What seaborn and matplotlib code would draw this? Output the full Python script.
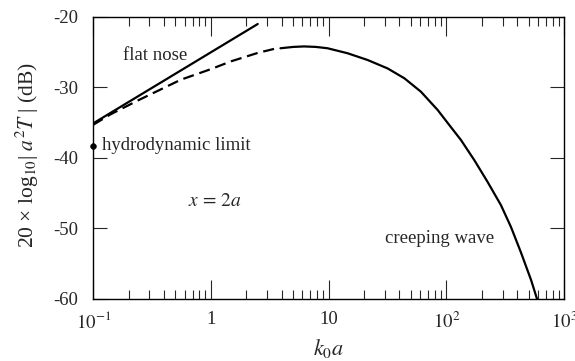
import numpy as np
import matplotlib
matplotlib.use("Agg")
import matplotlib.pyplot as plt
import matplotlib.ticker as mticker
import seaborn as sns

# flat nose asymptote (straight in log x)
flat_ka = [0.1, 2.5]
flat_db = [-35.1, -21.0]

# low frequency (dashed) part of the full solution
low_ka = [0.1, 0.141, 0.25, 0.556, 1.0, 1.48, 2.5, 3.5]
low_db = [-35.3, -33.8, -31.7, -28.9, -27.4, -26.3, -25.1, -24.5]

# high frequency (solid) part, creeping wave regime
high_ka = [3.9, 5.0, 6.2, 7.8, 9.8, 14.5, 21.4, 31.7, 44, 60.8, 84.4, 109,
           133, 172.6, 224, 291, 354, 430, 524, 589]
high_db = [-24.44, -24.25, -24.18, -24.25, -24.44, -25.15, -26.1, -27.3, -28.7,
           -30.6, -33.2, -35.6, -37.45, -40.3, -43.4, -46.7, -49.8, -53.4,
           -57.3, -60.0]

# hydrodynamic limit point
hydro_ka = [0.1]
hydro_db = [-38.25]

xtick_vals = [0.1, 1, 10, 100, 1000]
xtick_labels = ["$10^{-1}$", "1", "10", "$10^2$", "$10^3$"]
ytick_vals = [-60, -50, -40, -30, -20]

sns.set_style("ticks")
plt.rcParams["font.family"] = ["Liberation Serif", "DejaVu Serif"]
plt.rcParams["mathtext.fontset"] = "stix"

fig, ax = plt.subplots(figsize=(5.75, 3.61), dpi=100)
fig.subplots_adjust(left=0.162, right=0.981, bottom=0.172, top=0.953)

sns.lineplot(x=flat_ka, y=flat_db, color="black", lw=1.6, ax=ax)
sns.lineplot(x=low_ka, y=low_db, color="black", lw=1.6, ax=ax,
             linestyle=(0, (5, 2.6)))
sns.lineplot(x=high_ka, y=high_db, color="black", lw=1.6, ax=ax)
sns.scatterplot(x=hydro_ka, y=hydro_db, color="black", s=18, ax=ax,
                clip_on=False, zorder=5, edgecolor="black")

ax.set_xscale("log")
ax.set_xlim(0.1, 1000)
ax.set_ylim(-60, -20)
ax.set_xticks(xtick_vals)
ax.set_xticklabels(xtick_labels)
ax.xaxis.set_minor_locator(mticker.LogLocator(base=10, subs=np.arange(2, 10)))
ax.xaxis.set_minor_formatter(mticker.NullFormatter())
ax.set_yticks(ytick_vals)
ax.set_yticklabels([str(v) for v in ytick_vals])

ax.tick_params(axis="x", which="major", direction="in", length=13.4, width=0.8,
               top=True, bottom=True, labelsize=13.5, pad=9)
ax.tick_params(axis="x", which="minor", direction="in", length=6.7, width=0.8,
               top=True, bottom=True)
ax.tick_params(axis="y", which="major", direction="in", length=10, width=0.8,
               left=True, right=True, labelsize=13.5, pad=11)
for sp in ax.spines.values():
    sp.set_visible(True)
    sp.set_color("black")
    sp.set_linewidth(1.0)

ax.set_xlabel("$k_0a$", fontsize=16)
ax.xaxis.set_label_coords(0.5, -0.135)
ax.set_ylabel("20 × log$_{10}$| $a^2T$ | (dB)", fontsize=15.5)
ax.yaxis.set_label_coords(-0.11, 0.51)

ax.text(0.179, -25.4, "flat nose", fontsize=13.5, va="center", ha="left")
ax.text(0.12, -38.25, "hydrodynamic limit", fontsize=13.5, va="center", ha="left")
ax.text(0.638, -46.2, "$x\\,=\\,2a$", fontsize=14, va="center", ha="left")
ax.text(30.1, -51.4, "creeping wave", fontsize=13.5, va="center", ha="left")

fig.savefig("out.png", dpi=100)
